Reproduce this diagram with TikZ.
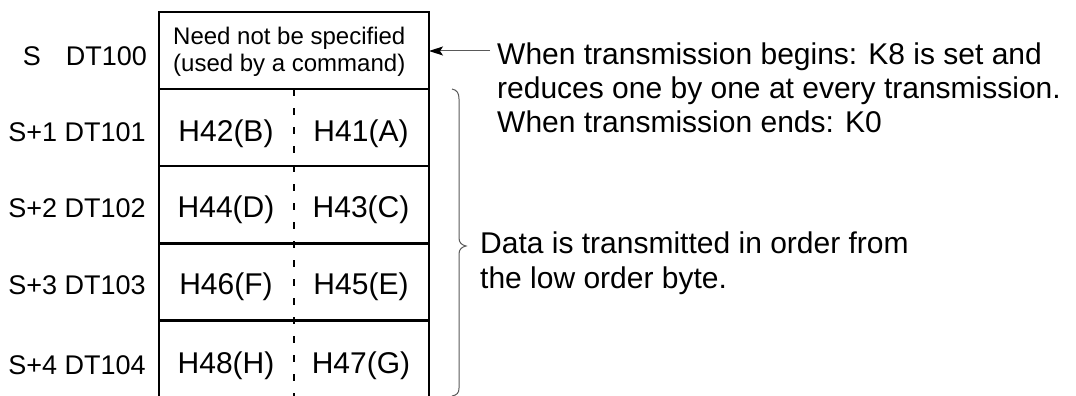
\documentclass[tikz,border=0pt]{standalone}
\usepackage{fontspec}
\setmainfont{Liberation Sans}
\usetikzlibrary{arrows.meta}
\begin{document}
\begin{tikzpicture}[x=1pt,y=-1pt,
  big/.style={font=\fontsize{30}{33}\selectfont, inner sep=0pt, anchor=base},
  rtext/.style={font=\fontsize{30}{33}\selectfont, inner sep=0pt, anchor=base west},
  lab/.style={font=\fontsize{27}{30}\selectfont, inner sep=0pt},
  small/.style={font=\fontsize{24}{27}\selectfont, inner sep=0pt, anchor=base west},
  boxline/.style={line width=2.2pt},
  cell/.style={boxline, draw, minimum width=270pt, minimum height=77pt, inner sep=0pt, outer sep=0pt},
  divider/.style={line width=1.8pt, dash pattern=on 7pt off 12pt},
  thin/.style={line width=1pt, draw=black!65},
  ]
\useasboundingbox (0,0) rectangle (1076,396);
% cells
\node[cell] (r0) at (294,50.5) {};
\node[cell] (r1) at (294,127.5) {};
\node[cell] (r2) at (294,204.5) {};
\node[cell] (r3) at (294,282) {};
\coordinate (r4l) at (159,396);
\coordinate (r4r) at (429,396);
\draw[boxline] (r3.south west) -- (r4l);
\draw[boxline] (r3.south east) -- (r4r);
% middle dashed divider
\coordinate (dtop) at (294,89);
\coordinate (dbot) at (294,396);
\draw[divider] (dtop) -- (dbot);
% top cell text
\node[small] (n1) at (173,45) {Need not be specified};
\node[small] (n2) at (173,72) {(used by a command)};
% byte texts
\node[big] (b1) at (226,141) {H42(B)};
\node[big] (a1) at (361,141) {H41(A)};
\node[big] (b2) at (226,217.5) {H44(D)};
\node[big] (a2) at (361,217.5) {H43(C)};
\node[big] (b3) at (226,294) {H46(F)};
\node[big] (a3) at (361,294) {H45(E)};
\node[big] (b4) at (226,373) {H48(H)};
\node[big] (a4) at (361,373) {H47(G)};
% left labels
\node[lab, anchor=base] (s0) at (32,66) {S};
\node[lab, anchor=base east] (d0) at (147,66) {DT100};
\node[lab, anchor=base east] (l1) at (146,141) {S+1 DT101};
\node[lab, anchor=base east] (l2) at (146,217) {S+2 DT102};
\node[lab, anchor=base east] (l3) at (146,294) {S+3 DT103};
\node[lab, anchor=base east] (l4) at (146,374) {S+4 DT104};
% right explanation
\node[rtext] (t1) at (497,65) {When transmission begins: K8 is set and};
\node[rtext] (t2) at (497,98.5) {reduces one by one at every transmission.};
\node[rtext] (t3) at (497,132) {When transmission ends: K0};
\coordinate (arrstart) at (490,51);
\draw[thin, -{Stealth[black, length=14pt, width=9pt, inset=3pt]}] (arrstart) -- (r0.east |- arrstart);
% brace
\draw[thin] (452,89) .. controls (457,90) and (459,93) .. (459,99)
  -- (459,238) .. controls (459,243) and (462,245) .. (466,246)
  .. controls (462,247) and (459,249) .. (459,254)
  -- (459,388) .. controls (459,393) and (457,395) .. (452,396);
\node[rtext] (u1) at (480,253) {Data is transmitted in order from};
\node[rtext] (u2) at (480,288) {the low order byte.};
\end{tikzpicture}
\end{document}
